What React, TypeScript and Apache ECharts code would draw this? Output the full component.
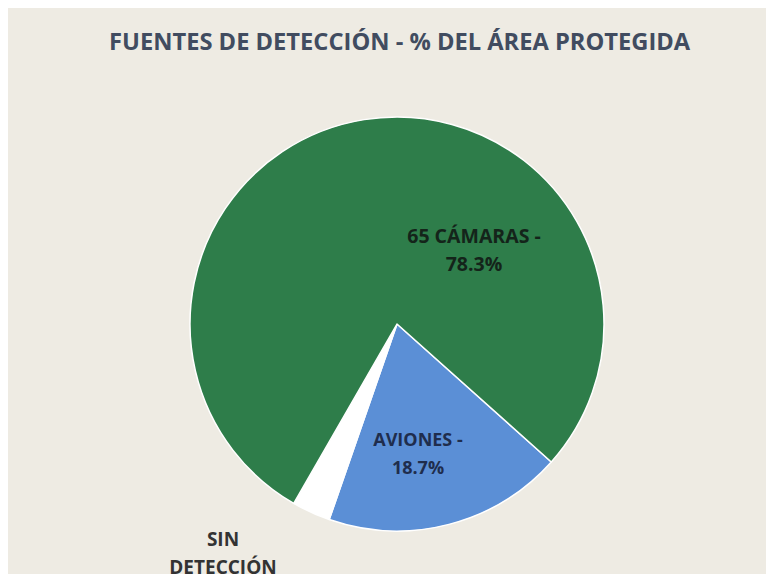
import React, { useEffect, useRef } from "react";
import * as echarts from "echarts";

const categories = ["AVIONES", "SIN DETECCIÓN", "65 CÁMARAS"];
const values = [18.7, 3.0, 78.3];
const labelTexts = ["AVIONES -\n18.7%", "SIN\nDETECCIÓN", "65 CÁMARAS -\n78.3%"];
const colors = ["#5B8FD6", "#FFFFFF", "#2E7D4A"];
const labelColors = ["#1F2D4D", "#333333", "#14241A"];
const labelSizes = [18, 19, 19.5];
const labelPos = [
  [418, 453],
  [223, 553],
  [474, 249],
];

export default function App() {
  const ref = useRef<HTMLDivElement>(null);
  useEffect(() => {
    const chart = echarts.init(ref.current!, null, { renderer: "svg" });
    chart.setOption({
      animation: false,
      backgroundColor: "#EEEBE3",
      title: {
        text: "FUENTES DE DETECCIÓN - % DEL ÁREA PROTEGIDA",
        left: 104,
        top: 24,
        textStyle: {
          fontFamily: "Open Sans",
          fontWeight: "bold",
          fontSize: 23.7,
          color: "#414C60",
        },
      },
      series: [
        {
          type: "pie",
          center: [397, 324],
          radius: [0, 207],
          startAngle: -41.8,
          clockwise: true,
          silent: true,
          itemStyle: { borderColor: "#FFFFFF", borderWidth: 1.5 },
          labelLine: { show: false },
          label: {
            show: true,
            position: "inside",
            fontFamily: "Open Sans",
            fontWeight: "bold",
            lineHeight: 28,
            align: "center",
          },
          labelLayout: (p: any) => ({
            x: labelPos[p.dataIndex][0],
            y: labelPos[p.dataIndex][1],
            align: "center",
            verticalAlign: "middle",
          }),
          data: categories.map((c, i) => ({
            name: c,
            value: values[i],
            itemStyle: { color: colors[i] },
            label: {
              formatter: labelTexts[i],
              color: labelColors[i],
              fontSize: labelSizes[i],
            },
          })),
        },
      ],
    });
    return () => chart.dispose();
  }, []);
  return <div ref={ref} style={{ width: 774, height: 582, margin: -8 }} />;
}
